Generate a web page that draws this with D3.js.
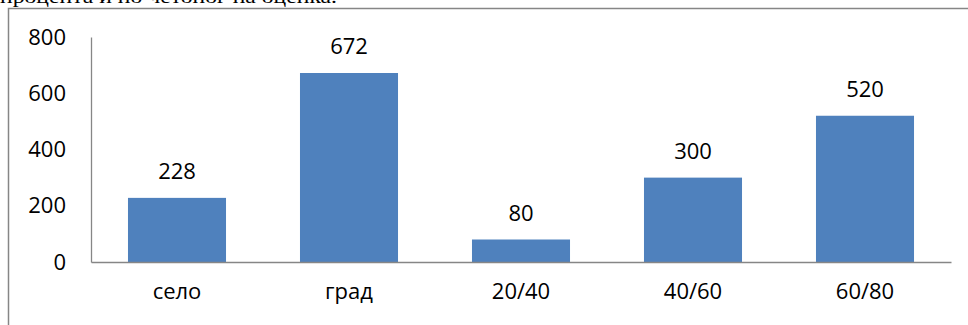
<!DOCTYPE html>
<html><head><meta charset="utf-8">
<script src="https://cdn.jsdelivr.net/npm/d3@7"></script>
<style>body{margin:0;background:#fff}svg{display:block}</style>
</head><body>
<script>
const categories = ["село", "град", "20/40", "40/60", "60/80"];
const values = [228, 672, 80, 300, 520];
const yTicks = [0, 200, 400, 600, 800];
const topText = "процента и по четоног на оценка.";

const W = 968, H = 325;
const svg = d3.select("body").append("svg").attr("width", W).attr("height", H);
const font = "'Open Sans', sans-serif";

// clipped text line from the page above
svg.append("text").attr("x", 0).attr("y", 3)
  .attr("font-family", "'Liberation Serif', serif").attr("font-size", 18)
  .attr("textLength", 337).attr("lengthAdjust", "spacingAndGlyphs")
  .attr("fill", "#000").text(topText);

// chart frame
svg.append("path").attr("d", `M8.5,${H} V8.5 H${W}`)
  .attr("fill", "none").attr("stroke", "#868686").attr("stroke-width", 1.5);

const x = d3.scaleBand().domain(categories).range([91, 951])
  .paddingInner(0.43).paddingOuter(0.215);
const y = d3.scaleLinear().domain([0, 800]).range([262, 37]);

// bars
svg.selectAll("rect.bar").data(values).enter().append("rect")
  .attr("x", (d, i) => x(categories[i]))
  .attr("y", d => y(d))
  .attr("width", x.bandwidth())
  .attr("height", d => y(0) - y(d))
  .attr("fill", "#4f81bd");

// y axis
const yAxis = d3.axisLeft(y).tickValues(yTicks).tickSize(0).tickPadding(25);
const gy = svg.append("g").attr("transform", "translate(91,0)").call(yAxis);
gy.select(".domain").attr("stroke", "#868686").attr("stroke-width", 1.3);
gy.selectAll("text").attr("font-family", font).attr("font-size", 22).attr("fill", "#000");

// x axis
const xAxis = d3.axisBottom(x).tickSize(0).tickPadding(21);
const gx = svg.append("g").attr("transform", "translate(0,262)").call(xAxis);
gx.select(".domain").attr("stroke", "#868686").attr("stroke-width", 1.3);
gx.selectAll("text").attr("font-family", font).attr("font-size", 22).attr("fill", "#000");

// data labels
svg.selectAll("text.lbl").data(values).enter().append("text")
  .attr("class", "lbl")
  .attr("x", (d, i) => x(categories[i]) + x.bandwidth() / 2)
  .attr("y", d => y(d) - 19)
  .attr("text-anchor", "middle")
  .attr("font-family", font).attr("font-size", 22).attr("fill", "#000")
  .text(d => d);
</script>
</body></html>
